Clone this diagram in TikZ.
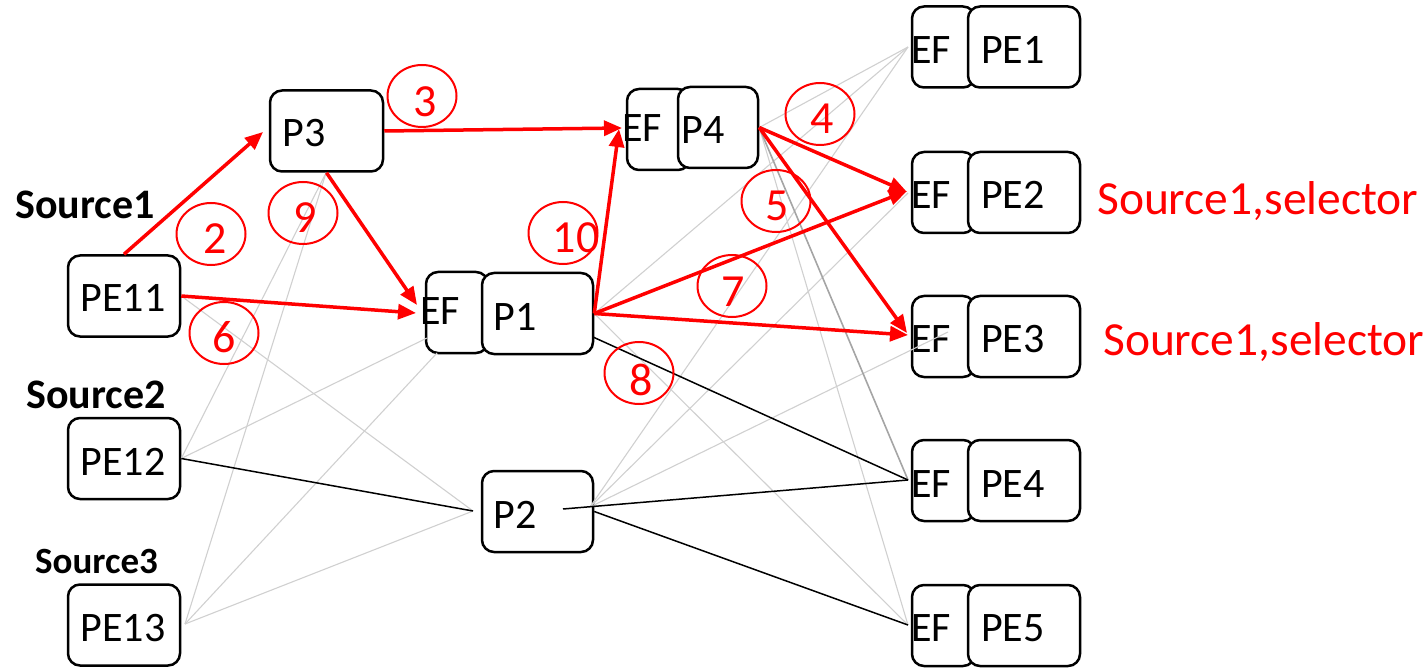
\documentclass[tikz,border=0pt]{standalone}
\usepackage{fontspec}
\setmainfont{Carlito}
\usetikzlibrary{arrows.meta,shapes.geometric}
\definecolor{rd}{RGB}{255,0,0}
\definecolor{lg}{RGB}{208,208,208}
\definecolor{mg}{RGB}{165,165,165}
\begin{document}
\begin{tikzpicture}[x=1pt,y=-1pt,
  box/.style={draw=black, line width=2.5pt, rounded corners=12pt, fill=white, inner sep=0pt, minimum height=81pt},
  lbl/.style={font=\fontsize{42}{50}\selectfont, inner sep=0pt},
  srclbl/.style={font=\fontsize{42}{50}\selectfont\bfseries, inner sep=0pt, anchor=base west},
  redlbl/.style={font=\fontsize{47.5}{56}\selectfont, text=rd, inner sep=0pt, anchor=base west},
  num/.style={draw=rd, line width=2pt, ellipse, minimum width=69pt, minimum height=62pt, inner sep=0pt},
  digit/.style={font=\fontsize{46}{54}\selectfont, text=rd, inner sep=0pt},
  redarrow/.style={draw=rd, line width=3.5pt, -{Triangle[length=18pt,width=15pt]}},
  greyline/.style={draw=lg, line width=1.1pt},
  darkgrey/.style={draw=mg, line width=1.6pt},
  blackline/.style={draw=black, line width=1.5pt}
]
\useasboundingbox (0,0) rectangle (1428,671);

% ---- boxes ----
\node[box, minimum width=113pt] (P3) at (326.5,131) {};
\node[box, minimum width=112pt] (PE11) at (124,296) {};
\node[box, minimum width=112pt] (PE12) at (124,458.5) {};
\node[box, minimum width=112pt] (PE13) at (124,625) {};
\node[box, minimum width=62pt] (EF1) at (457,312.5) {};
\node[box, minimum width=111pt] (P1) at (537.5,313.5) {};
\node[box, minimum width=111pt] (P2) at (537.5,511.5) {};
\node[box, minimum width=63pt] (EFP4) at (658.5,129.5) {};
\node[box, minimum width=80pt] (P4) at (718,127.5) {};
\foreach \i/\y in {1/47,2/192.5,3/336.5,4/480.5,5/625.5}{
  \node[box, minimum width=63pt] (EFPE\i) at (943.5,\y) {};
  \node[box, minimum width=112pt] (PE\i) at (1024,\y) {};
}

% ---- texts ----
\node[lbl] (tP3) at (304,133) {P3};
\node[lbl] (tPE11) at (123,298) {PE11};
\node[lbl] (tPE12) at (123,462) {PE12};
\node[lbl] (tPE13) at (123,628) {PE13};
\node[lbl] (tEF1) at (440,311) {EF};
\node[lbl] (tP1) at (515,317) {P1};
\node[lbl] (tP2) at (515,515) {P2};
\node[lbl] (tEFP4) at (642,128) {EF};
\node[lbl] (tP4) at (703,130) {P4};
\foreach \i/\y in {1/50,2/195,3/339,4/484,5/628}{
  \node[lbl] (tEFPE\i) at (931,\y) {EF};
  \node[lbl] (tPE\i) at (1013,\y) {PE\i};
}
\node[srclbl] (s1) at (15,219) {Source1};
\node[srclbl] (s2) at (26,408) {Source2};
\node[srclbl, font=\fontsize{37}{44}\selectfont\bfseries] (s3) at (35,573) {Source3};
\node[redlbl] (sel1) at (1097,215) {Source1,selector};
\node[redlbl] (sel2) at (1103,355) {Source1,selector};

% ---- coordinates ----
\coordinate (p2l) at (473,511);
\coordinate (p2in) at (563,509);
\coordinate (p2r) at (590,507);
\coordinate (p3b) at (326,173);
\coordinate (pe13r) at (185,624);
\coordinate (ef1a) at (427,338);
\coordinate (ef1b) at (437,353);
\coordinate (pe1in) at (908,47);
\coordinate (pe2in) at (908,193);
\coordinate (pe3in) at (948,332);
\coordinate (pe4in) at (908,480);
\coordinate (pe5in) at (908,625);
\coordinate (p1low) at (593,337);
\coordinate (t2) at (263,132);
\coordinate (t6) at (416,313);
\coordinate (t9) at (417,305);
\coordinate (t3) at (622,128);
\coordinate (t10) at (619,129);
\coordinate (t7) at (907,191);
\coordinate (t8) at (908,335);
\coordinate (t4) at (907,192);
\coordinate (t5) at (907,333);

% ---- grey lines ----
\draw[greyline] (PE11.east) -- (p2l);
\draw[greyline] (p3b) -- (PE12.east);
\draw[greyline] (p3b) -- (pe13r);
\draw[greyline] (PE12.east) -- (ef1a);
\draw[greyline] (pe13r) -- (ef1b);
\draw[greyline] (pe13r) -- (p2l);
\draw[greyline] (P1.east) -- (pe5in);
\draw[greyline] (P1.east) -- (pe1in);
\draw[greyline] (p2r) -- (pe1in);
\draw[greyline] (p2r) -- (pe2in);
\draw[greyline] (p2r) -- (pe3in);
\draw[greyline] (P4.east) -- (pe1in);
\draw[greyline] (P4.east) -- (pe5in);
\draw[darkgrey] (P4.east) -- (pe4in);

% ---- black lines ----
\draw[blackline] (PE12.east) -- (p2l);
\draw[blackline] (p1low) -- (pe4in);
\draw[blackline] (p2in) -- (pe4in);
\draw[blackline] (P2.east) -- (pe5in);

% ---- red arrows ----
\draw[redarrow] (PE11.north) -- (t2);
\draw[redarrow] (PE11.east) -- (t6);
\draw[redarrow] (P3.south) -- (t9);
\draw[redarrow] (P3.east) -- (t3);
\draw[redarrow] (P1.east) -- (t10);
\draw[redarrow] (P1.east) -- (t7);
\draw[redarrow] (P1.east) -- (t8);
\draw[redarrow] (P4.east) -- (t4);
\draw[redarrow] (P4.east) -- (t5);

% ---- numbered circles ----
\node[num] (c2) at (211,234) {};  \node[digit] (d2) at (215,239) {2};
\node[num] (c3) at (422,96) {};   \node[digit] (d3) at (425,102) {3};
\node[num] (c9) at (303,213) {};  \node[digit] (d9) at (305,218) {9};
\node[num] (c10) at (563,233) {}; \node[digit] (d10) at (576,238) {10};
\node[num] (c6) at (224,333) {};  \node[digit] (d6) at (224,337) {6};
\node[num] (c8) at (639,373) {};  \node[digit] (d8) at (641,380) {8};
\node[num] (c7) at (732,286) {};  \node[digit] (d7) at (733,292) {7};
\node[num] (c4) at (820,114) {};  \node[digit] (d4) at (822,119) {4};
\node[num] (c5) at (776,201) {};  \node[digit] (d5) at (777,206) {5};
\end{tikzpicture}
\end{document}
